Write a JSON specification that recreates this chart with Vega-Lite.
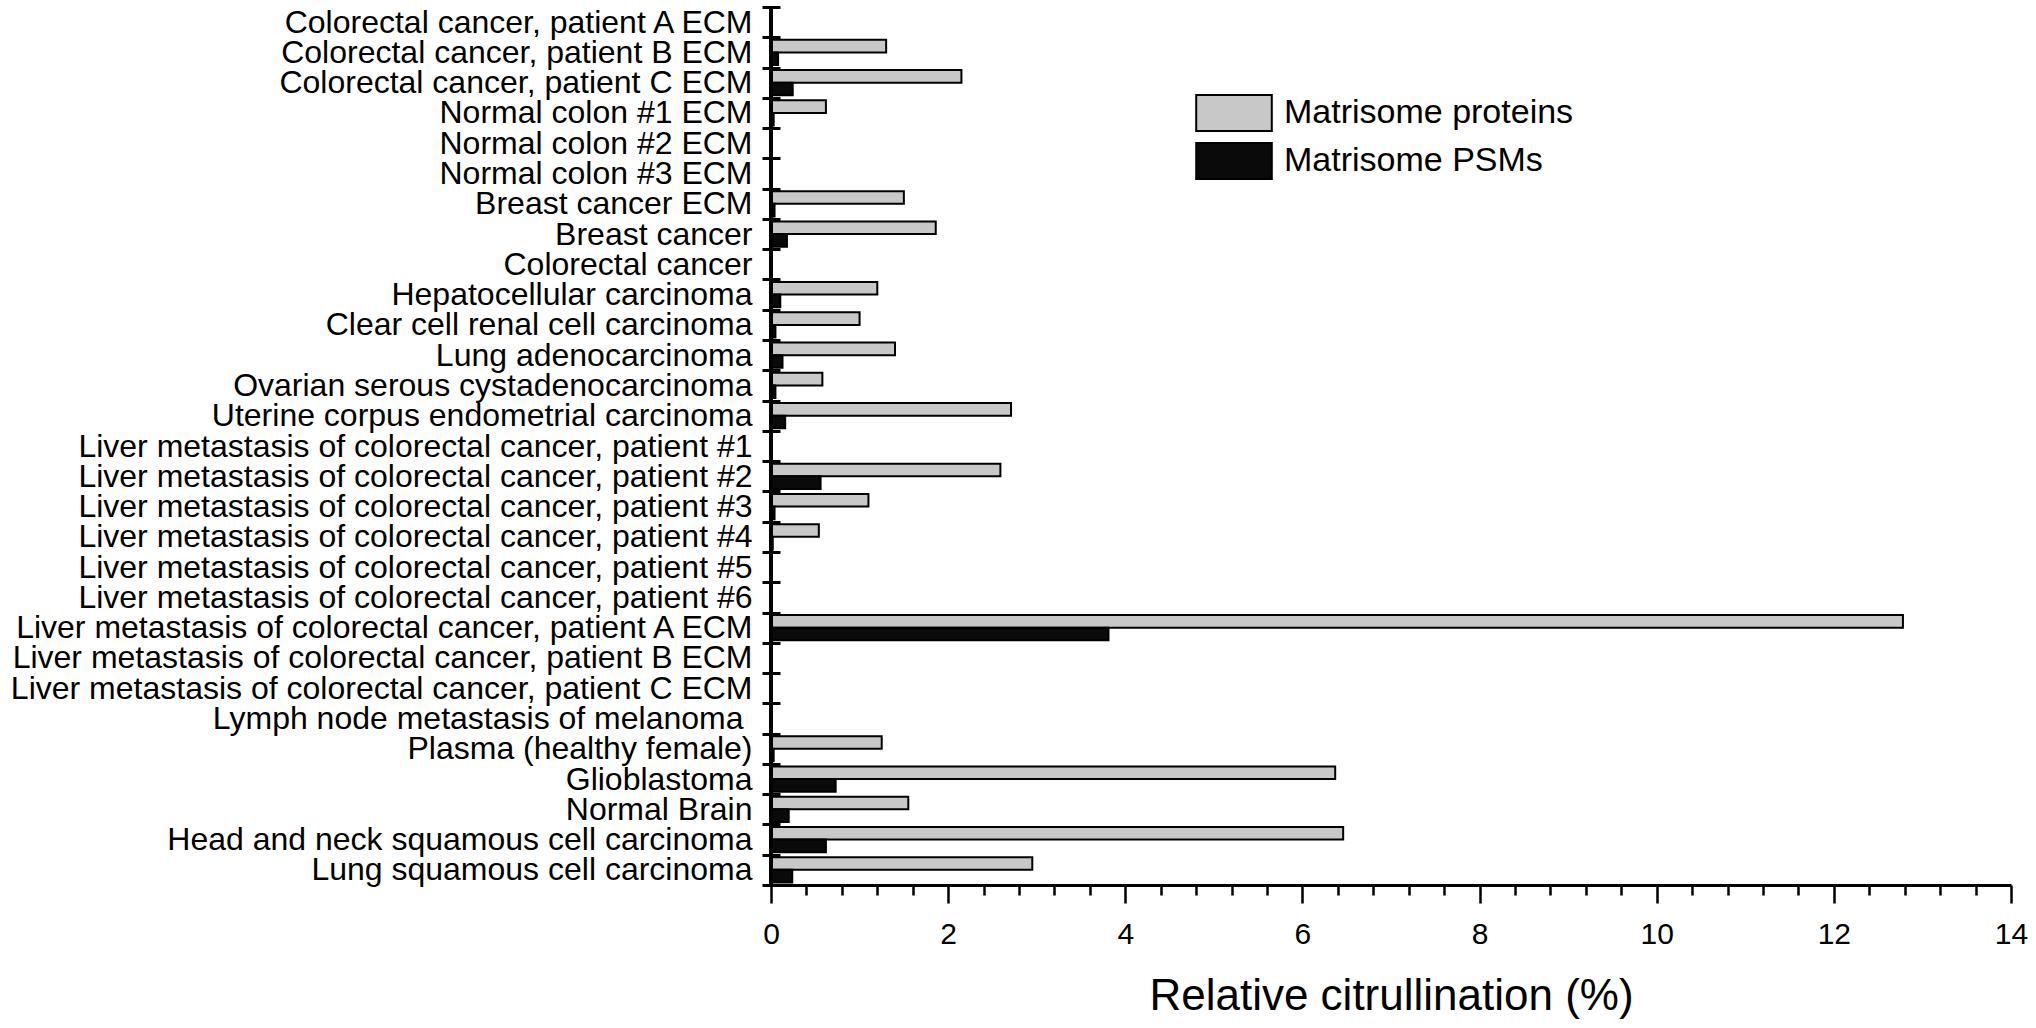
{
  "$schema": "https://vega.github.io/schema/vega-lite/v6.json",
  "width": 1240,
  "height": 878,
  "autosize": {"type": "none"},
  "padding": {"left": 771, "top": 7, "right": 25, "bottom": 143},
  "background": "white",
  "config": {
    "view": {"stroke": null},
    "font": "Liberation Sans",
    "axisX": {"labelOverlap": false}
  },
  "data": {
    "values": [
      {"sample": "Colorectal cancer, patient A ECM", "type": "Matrisome proteins", "value": 0},
      {"sample": "Colorectal cancer, patient A ECM", "type": "Matrisome PSMs", "value": 0},
      {"sample": "Colorectal cancer, patient B ECM", "type": "Matrisome proteins", "value": 1.30},
      {"sample": "Colorectal cancer, patient B ECM", "type": "Matrisome PSMs", "value": 0.08},
      {"sample": "Colorectal cancer, patient C ECM", "type": "Matrisome proteins", "value": 2.15},
      {"sample": "Colorectal cancer, patient C ECM", "type": "Matrisome PSMs", "value": 0.245},
      {"sample": "Normal colon #1 ECM", "type": "Matrisome proteins", "value": 0.62},
      {"sample": "Normal colon #1 ECM", "type": "Matrisome PSMs", "value": 0.03},
      {"sample": "Normal colon #2 ECM", "type": "Matrisome proteins", "value": 0},
      {"sample": "Normal colon #2 ECM", "type": "Matrisome PSMs", "value": 0},
      {"sample": "Normal colon #3 ECM", "type": "Matrisome proteins", "value": 0},
      {"sample": "Normal colon #3 ECM", "type": "Matrisome PSMs", "value": 0},
      {"sample": "Breast cancer ECM", "type": "Matrisome proteins", "value": 1.50},
      {"sample": "Breast cancer ECM", "type": "Matrisome PSMs", "value": 0.04},
      {"sample": "Breast cancer", "type": "Matrisome proteins", "value": 1.86},
      {"sample": "Breast cancer", "type": "Matrisome PSMs", "value": 0.18},
      {"sample": "Colorectal cancer", "type": "Matrisome proteins", "value": 0},
      {"sample": "Colorectal cancer", "type": "Matrisome PSMs", "value": 0},
      {"sample": "Hepatocellular carcinoma", "type": "Matrisome proteins", "value": 1.20},
      {"sample": "Hepatocellular carcinoma", "type": "Matrisome PSMs", "value": 0.105},
      {"sample": "Clear cell renal cell carcinoma", "type": "Matrisome proteins", "value": 1.00},
      {"sample": "Clear cell renal cell carcinoma", "type": "Matrisome PSMs", "value": 0.05},
      {"sample": "Lung adenocarcinoma", "type": "Matrisome proteins", "value": 1.40},
      {"sample": "Lung adenocarcinoma", "type": "Matrisome PSMs", "value": 0.13},
      {"sample": "Ovarian serous cystadenocarcinoma", "type": "Matrisome proteins", "value": 0.58},
      {"sample": "Ovarian serous cystadenocarcinoma", "type": "Matrisome PSMs", "value": 0.05},
      {"sample": "Uterine corpus endometrial carcinoma", "type": "Matrisome proteins", "value": 2.71},
      {"sample": "Uterine corpus endometrial carcinoma", "type": "Matrisome PSMs", "value": 0.16},
      {"sample": "Liver metastasis of colorectal cancer, patient #1", "type": "Matrisome proteins", "value": 0},
      {"sample": "Liver metastasis of colorectal cancer, patient #1", "type": "Matrisome PSMs", "value": 0},
      {"sample": "Liver metastasis of colorectal cancer, patient #2", "type": "Matrisome proteins", "value": 2.59},
      {"sample": "Liver metastasis of colorectal cancer, patient #2", "type": "Matrisome PSMs", "value": 0.56},
      {"sample": "Liver metastasis of colorectal cancer, patient #3", "type": "Matrisome proteins", "value": 1.10},
      {"sample": "Liver metastasis of colorectal cancer, patient #3", "type": "Matrisome PSMs", "value": 0.04},
      {"sample": "Liver metastasis of colorectal cancer, patient #4", "type": "Matrisome proteins", "value": 0.54},
      {"sample": "Liver metastasis of colorectal cancer, patient #4", "type": "Matrisome PSMs", "value": 0.02},
      {"sample": "Liver metastasis of colorectal cancer, patient #5", "type": "Matrisome proteins", "value": 0},
      {"sample": "Liver metastasis of colorectal cancer, patient #5", "type": "Matrisome PSMs", "value": 0},
      {"sample": "Liver metastasis of colorectal cancer, patient #6", "type": "Matrisome proteins", "value": 0},
      {"sample": "Liver metastasis of colorectal cancer, patient #6", "type": "Matrisome PSMs", "value": 0},
      {"sample": "Liver metastasis of colorectal cancer, patient A ECM", "type": "Matrisome proteins", "value": 12.78},
      {"sample": "Liver metastasis of colorectal cancer, patient A ECM", "type": "Matrisome PSMs", "value": 3.81},
      {"sample": "Liver metastasis of colorectal cancer, patient B ECM", "type": "Matrisome proteins", "value": 0},
      {"sample": "Liver metastasis of colorectal cancer, patient B ECM", "type": "Matrisome PSMs", "value": 0},
      {"sample": "Liver metastasis of colorectal cancer, patient C ECM", "type": "Matrisome proteins", "value": 0},
      {"sample": "Liver metastasis of colorectal cancer, patient C ECM", "type": "Matrisome PSMs", "value": 0},
      {"sample": "Lymph node metastasis of melanoma", "type": "Matrisome proteins", "value": 0},
      {"sample": "Lymph node metastasis of melanoma", "type": "Matrisome PSMs", "value": 0},
      {"sample": "Plasma (healthy female)", "type": "Matrisome proteins", "value": 1.25},
      {"sample": "Plasma (healthy female)", "type": "Matrisome PSMs", "value": 0.03},
      {"sample": "Glioblastoma", "type": "Matrisome proteins", "value": 6.37},
      {"sample": "Glioblastoma", "type": "Matrisome PSMs", "value": 0.73},
      {"sample": "Normal Brain", "type": "Matrisome proteins", "value": 1.55},
      {"sample": "Normal Brain", "type": "Matrisome PSMs", "value": 0.20},
      {"sample": "Head and neck squamous cell carcinoma", "type": "Matrisome proteins", "value": 6.46},
      {"sample": "Head and neck squamous cell carcinoma", "type": "Matrisome PSMs", "value": 0.62},
      {"sample": "Lung squamous cell carcinoma", "type": "Matrisome proteins", "value": 2.95},
      {"sample": "Lung squamous cell carcinoma", "type": "Matrisome PSMs", "value": 0.24}
    ]
  },
  "layer": [
    {
      "mark": {"type": "bar", "stroke": "black", "strokeWidth": 2},
      "encoding": {
        "y": {
          "field": "sample",
          "type": "nominal",
          "sort": null,
          "scale": {
            "domain": [
              "Colorectal cancer, patient A ECM",
              "Colorectal cancer, patient B ECM",
              "Colorectal cancer, patient C ECM",
              "Normal colon #1 ECM",
              "Normal colon #2 ECM",
              "Normal colon #3 ECM",
              "Breast cancer ECM",
              "Breast cancer",
              "Colorectal cancer",
              "Hepatocellular carcinoma",
              "Clear cell renal cell carcinoma",
              "Lung adenocarcinoma",
              "Ovarian serous cystadenocarcinoma",
              "Uterine corpus endometrial carcinoma",
              "Liver metastasis of colorectal cancer, patient #1",
              "Liver metastasis of colorectal cancer, patient #2",
              "Liver metastasis of colorectal cancer, patient #3",
              "Liver metastasis of colorectal cancer, patient #4",
              "Liver metastasis of colorectal cancer, patient #5",
              "Liver metastasis of colorectal cancer, patient #6",
              "Liver metastasis of colorectal cancer, patient A ECM",
              "Liver metastasis of colorectal cancer, patient B ECM",
              "Liver metastasis of colorectal cancer, patient C ECM",
              "Lymph node metastasis of melanoma",
              "Plasma (healthy female)",
              "Glioblastoma",
              "Normal Brain",
              "Head and neck squamous cell carcinoma",
              "Lung squamous cell carcinoma"
            ],
            "paddingInner": 0,
            "paddingOuter": 0
          },
          "axis": {
            "title": null,
            "domain": false,
            "tickBand": "extent",
            "offset": -9,
            "tickSize": 18,
            "tickWidth": 3,
            "tickColor": "black",
            "labelFontSize": 32,
            "labelColor": "black",
            "labelPadding": {"condition": {"test": "datum.value === 'Lymph node metastasis of melanoma'", "value": 19}, "value": 10},
            "labelLimit": 1000
          }
        },
        "x": {
          "field": "value",
          "type": "quantitative",
          "scale": {"domain": [0, 14], "nice": false},
          "axis": {
            "title": "Relative citrullination (%)",
            "titleFontSize": 44,
            "titleFontWeight": "normal",
            "titleColor": "black",
            "titlePadding": 25,
            "grid": false,
            "tickCount": 100,
            "values": [0, 0.4, 0.8, 1.2, 1.6, 2, 2.4, 2.8, 3.2, 3.6, 4, 4.4, 4.8, 5.2, 5.6, 6, 6.4, 6.8, 7.2, 7.6, 8, 8.4, 8.8, 9.2, 9.6, 10, 10.4, 10.8, 11.2, 11.6, 12, 12.4, 12.8, 13.2, 13.6, 14],
            "labelExpr": "datum.value % 2 === 0 ? format(datum.value, 'd') : ''",
            "labelOverlap": false,
            "labelFlush": false,
            "tickSize": {"condition": {"test": "datum.value % 2 !== 0", "value": 10}, "value": 18},
            "tickWidth": 2.5,
            "tickColor": "black",
            "domainColor": "black",
            "domainWidth": 3,
            "labelFontSize": 30,
            "labelColor": "black",
            "labelPadding": 16
          }
        },
        "yOffset": {
          "field": "type",
          "sort": ["Matrisome proteins", "Matrisome PSMs"],
          "scale": {"paddingInner": 0, "paddingOuter": 0.2}
        },
        "color": {
          "field": "type",
          "type": "nominal",
          "scale": {"domain": ["Matrisome proteins", "Matrisome PSMs"], "range": ["#c8c8c8", "#0a0a0a"]},
          "legend": {
            "title": null,
            "orient": "none",
            "legendX": 444,
            "legendY": 87,
            "symbolType": "M-2.1,-1H2.1V1H-2.1Z",
            "symbolSize": 1296,
            "symbolStrokeColor": "black",
            "symbolStrokeWidth": 2,
            "symbolOpacity": 1,
            "labelFontSize": 34,
            "labelColor": "black",
            "labelOffset": 31,
            "labelLimit": 0,
            "rowPadding": 4
          }
        }
      }
    },
    {
      "mark": {"type": "rule", "strokeWidth": 3, "color": "black"},
      "encoding": {"x": {"datum": 0, "axis": {"labelOverlap": false, "tickCount": 100}}}
    }
  ]
}
